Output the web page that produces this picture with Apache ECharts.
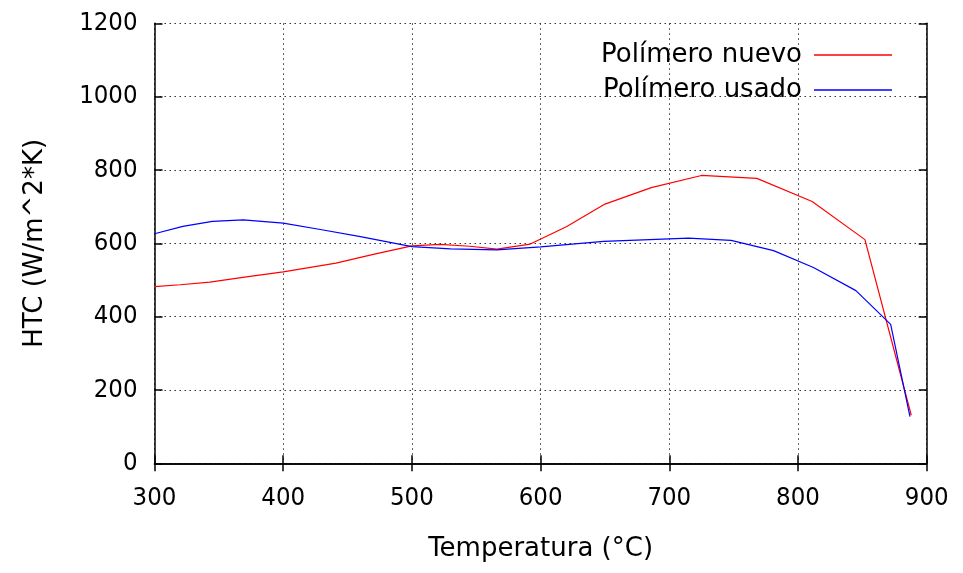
<!DOCTYPE html>
<html><head><meta charset="utf-8">
<script src="https://cdn.jsdelivr.net/npm/echarts@6/dist/echarts.min.js"></script>
<style>html,body{margin:0;padding:0;background:#fff}#c{width:963px;height:573px}</style>
</head><body><div id="c"></div>
<script>
const seriesNames = ['Polímero nuevo', 'Polímero usado'];
const seriesColors = ['#ff0000', '#0000ff'];
const nuevo = [[300,482],[320,487],[343,494],[370,508],[400,522],[441,546],[470,570],[500,593],[522,597],[545,592],[566,584],[592,598],[620,645],[650,707],[686,752],[725,785],[768,777],[811,714],[852,610],[888,131]];
const usado = [[300,626],[322,646],[345,660],[369,664],[400,655],[430,637],[460,618],[500,591],[530,585],[566,582],[600,590],[649,605],[715,614],[748,608],[781,580],[812,534],[845,471],[872,379],[887,127]];
const xTicks = [300,400,500,600,700,800,900];
const yTicks = [0,200,400,600,800,1000,1200];
const FONT = '"DejaVu Sans", sans-serif';
const NUMFONT = '"DejaVu Sans Condensed", "DejaVu Sans", sans-serif';
const FS = 26;
const NFS = 25.5;
const chart = echarts.init(document.getElementById('c'));
const grid = {left:154.5, right:36.3, top:23.3, bottom:109.7};
const axisLine = {show:true, lineStyle:{color:'#000', width:1.5}};
const split = {show:true, lineStyle:{color:'#333', type:[1.5,3.5], width:1}};
const tick = {show:true, inside:true, length:8, lineStyle:{color:'#000', width:1.5}};
chart.setOption({
  animation:false,
  backgroundColor:'#fff',
  grid:grid,
  legend:{
    data:seriesNames.map((n,i)=>({name:n, itemStyle:{color:seriesColors[i]}})),
    orient:'vertical', right:66, top:37, align:'right',
    icon:'rect', itemWidth:78, itemHeight:1.5, itemGap:9,
    textStyle:{fontFamily:FONT, fontSize:FS, color:'#000', padding:[0,7,0,0]}
  },
  xAxis:[{
    type:'value', min:xTicks[0], max:xTicks[xTicks.length-1], interval:100,
    name:'Temperatura (°C)', nameLocation:'middle', nameGap:73,
    nameTextStyle:{fontFamily:FONT, fontSize:FS, color:'#000'},
    axisLine:axisLine, axisTick:tick,
    axisLabel:{fontFamily:NUMFONT, fontSize:NFS, color:'#000', margin:22, formatter:v=>String(v)},
    splitLine:split
  },{
    type:'value', position:'top', min:xTicks[0], max:xTicks[xTicks.length-1], interval:100,
    axisLine:axisLine, axisTick:tick, axisLabel:{show:false}, splitLine:{show:false}
  }],
  yAxis:[{
    type:'value', min:yTicks[0], max:yTicks[yTicks.length-1], interval:200,
    name:'HTC (W/m^2*K)', nameLocation:'middle', nameGap:106, nameRotate:90,
    nameTextStyle:{fontFamily:FONT, fontSize:FS, color:'#000'},
    axisLine:axisLine, axisTick:tick,
    axisLabel:{fontFamily:NUMFONT, fontSize:NFS, color:'#000', margin:17, formatter:v=>String(v)},
    splitLine:split
  },{
    type:'value', position:'right', min:yTicks[0], max:yTicks[yTicks.length-1], interval:200,
    axisLine:axisLine, axisTick:tick, axisLabel:{show:false}, splitLine:{show:false}
  }],
  series:[
    {name:seriesNames[0], type:'line', data:nuevo, showSymbol:false, symbol:'none', lineStyle:{color:seriesColors[0], width:1.2}, itemStyle:{color:seriesColors[0]}},
    {name:seriesNames[1], type:'line', data:usado, showSymbol:false, symbol:'none', lineStyle:{color:seriesColors[1], width:1.2}, itemStyle:{color:seriesColors[1]}}
  ]
});
</script></body></html>
